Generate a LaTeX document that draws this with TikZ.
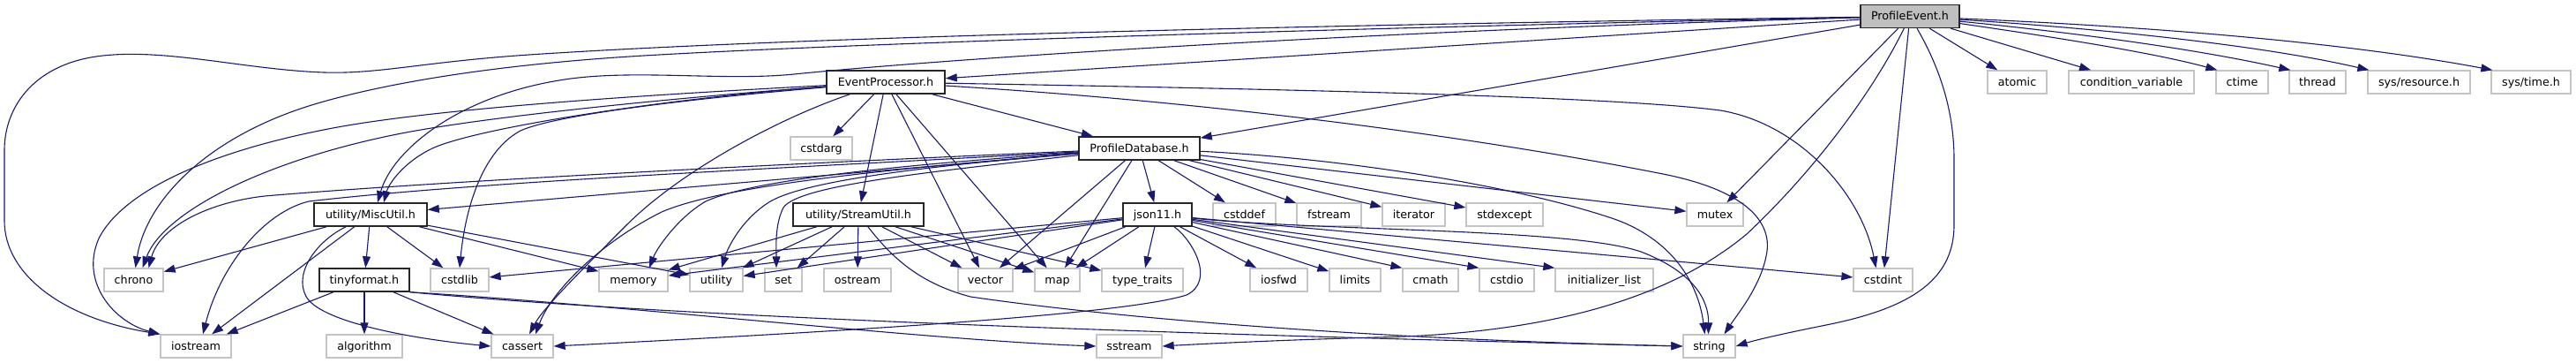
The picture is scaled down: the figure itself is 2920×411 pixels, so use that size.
\documentclass[tikz,border=0pt]{standalone}
\usepackage{fontspec}
\setmainfont{DejaVu Sans}
\usetikzlibrary{arrows.meta}
\definecolor{edgec}{HTML}{191970}
\definecolor{sysc}{HTML}{C4C4C4}
\definecolor{rootf}{HTML}{BFBFBF}
\begin{document}
\begin{tikzpicture}[x=1pt,y=-1pt,
  every node/.style={font=\fontsize{12.7}{15}\selectfont, inner sep=0pt, text height=11pt, text depth=2pt, minimum height=26pt},
  nbox/.style={draw=sysc, line width=1.3pt, fill=white},
  dbox/.style={draw=black!85, line width=1.5pt, fill=white},
  rbox/.style={draw=black!85, line width=1.5pt, fill=rootf},
  e/.style={draw=edgec, line width=1.1pt, -{Triangle[length=13pt,width=9pt]}}]
\useasboundingbox[fill=white] (0,0) rectangle (2920,411);
% row 0
\node[rbox, minimum width=112pt] (PE) at (2165,18.5) {ProfileEvent.h};
% row 1
\node[dbox, minimum width=134pt] (EP) at (1004,93) {EventProcessor.h};
\node[nbox, minimum width=67pt] (atomic) at (2286.5,93) {atomic};
\node[nbox, minimum width=142pt] (condvar) at (2416,93) {condition\_variable};
\node[nbox, minimum width=59pt] (ctime) at (2541.5,93) {ctime};
\node[nbox, minimum width=64pt] (thread) at (2627,93) {thread};
\node[nbox, minimum width=116pt] (sysres) at (2742,93) {sys/resource.h};
\node[nbox, minimum width=90pt] (systime) at (2869,93) {sys/time.h};
% row 2
\node[nbox, minimum width=70pt] (cstdarg) at (931,168) {cstdarg};
\node[dbox, minimum width=137pt] (PD) at (1291.5,168) {ProfileDatabase.h};
% row 3
\node[dbox, minimum width=128pt] (MU) at (420,243) {utility/MiscUtil.h};
\node[dbox, minimum width=148pt] (SU) at (973,243) {utility/StreamUtil.h};
\node[dbox, minimum width=78pt] (J) at (1312,243) {json11.h};
\node[nbox, minimum width=71pt] (cstddef) at (1410.5,243) {cstddef};
\node[nbox, minimum width=73pt] (fstream) at (1506.5,243) {fstream};
\node[nbox, minimum width=71pt] (iterator) at (1602.5,243) {iterator};
\node[nbox, minimum width=87pt] (stdexcept) at (1705.5,243) {stdexcept};
\node[nbox, minimum width=64pt] (mutex) at (1944,243) {mutex};
% row 4
\node[nbox, minimum width=67pt] (chrono) at (151.5,317) {chrono};
\node[dbox, minimum width=102pt] (TF) at (413,317) {tinyformat.h};
\node[nbox, minimum width=66pt] (cstdlib) at (521,317) {cstdlib};
\node[nbox, minimum width=78pt] (memory) at (718,317) {memory};
\node[nbox, minimum width=60pt] (utility) at (812,317) {utility};
\node[nbox, minimum width=42pt] (set) at (888,317) {set};
\node[nbox, minimum width=76pt] (ostream) at (972,317) {ostream};
\node[nbox, minimum width=62pt] (vector) at (1117,317) {vector};
\node[nbox, minimum width=51pt] (map) at (1198.5,317) {map};
\node[nbox, minimum width=92pt] (typetraits) at (1295,317) {type\_traits};
\node[nbox, minimum width=65pt] (iosfwd) at (1449.5,317) {iosfwd};
\node[nbox, minimum width=58pt] (limits) at (1536,317) {limits};
\node[nbox, minimum width=63pt] (cmath) at (1621.5,317) {cmath};
\node[nbox, minimum width=62pt] (cstdio) at (1708,317) {cstdio};
\node[nbox, minimum width=111pt] (initlist) at (1818.5,317) {initializer\_list};
\node[nbox, minimum width=67pt] (cstdint) at (2134.5,317) {cstdint};
% row 5
\node[nbox, minimum width=80pt] (iostream) at (222,392) {iostream};
\node[nbox, minimum width=86pt] (algorithm) at (413,392) {algorithm};
\node[nbox, minimum width=70pt] (cassert) at (592,392) {cassert};
\node[nbox, minimum width=74pt] (sstream) at (1280,392) {sstream};
\node[nbox, minimum width=59pt] (string) at (1937.5,392) {string};

% ---- ProfileEvent.h
\draw[e] (PE) -- (EP);
\draw[e] (PE) -- (PD);
\draw[e] (PE) .. controls (1500,28) and (900,42) .. (600,62) .. controls (480,70) and (430,84) .. (367,82) .. controls (280,79) and (190,55) .. (117,63) .. controls (40,71) and (5,120) .. (5,170) -- (5,250) .. controls (5,310) and (70,360) .. (iostream.north west);
\draw[e] (PE) .. controls (1500,32) and (950,50) .. (730,63) .. controls (560,73) and (430,95) .. (350,120) .. controls (230,158) and (165,230) .. ([xshift=2pt]chrono.north);
\draw[e] (PE) .. controls (1600,33) and (1100,64) .. (900,84) .. controls (820,92) and (720,78) .. (640,90) .. controls (520,108) and (445,170) .. ([xshift=8pt]MU.north);
\draw[e] (PE) -- (mutex);
\draw[e] (PE) .. controls (2125,100) and (2060,190) .. (1980,265) .. controls (1890,340) and (1750,378) .. (1560,382) .. controls (1450,385) and (1350,390) .. (sstream.east);
\draw[e] (PE) -- (cstdint);
\draw[e] (PE) .. controls (2195,70) and (2215,120) .. (2215,180) -- (2215,255) .. controls (2215,320) and (2160,350) .. (2070,368) .. controls (2020,378) and (1990,385) .. (string.east);
\draw[e] (PE) -- (atomic);
\draw[e] (PE) -- (condvar);
\draw[e] (PE) .. controls (2350,45) and (2450,62) .. ([xshift=2pt]ctime.north west);
\draw[e] (PE) .. controls (2380,40) and (2500,58) .. ([xshift=2pt]thread.north west);
\draw[e] (PE) .. controls (2420,35) and (2580,55) .. ([xshift=2pt]sysres.north west);
\draw[e] (PE) .. controls (2480,32) and (2680,52) .. ([xshift=2pt]systime.north west);

% ---- EventProcessor.h
\draw[e] (EP) -- (cstdarg);
\draw[e] (EP) -- (SU);
\draw[e] (EP) -- (vector);
\draw[e] (EP) -- (map);
\draw[e] (EP) -- (PD);
\draw[e] (EP) .. controls (1400,100) and (1820,108) .. (1950,125) .. controls (2040,140) and (2110,220) .. ([xshift=-8pt]cstdint.north);
\draw[e] (EP) .. controls (1450,120) and (1750,170) .. (1890,198) .. controls (1985,218) and (2010,255) .. (2002,290) .. controls (1995,325) and (1970,355) .. ([xshift=17pt]string.north);
\draw[e] (EP) .. controls (800,104) and (500,120) .. (367,147) .. controls (240,172) and (140,215) .. (112,270) .. controls (90,320) and (130,365) .. (iostream.north west);
\draw[e] (EP) .. controls (800,108) and (560,130) .. (450,152) .. controls (300,182) and (185,240) .. ([xshift=10pt]chrono.north);
\draw[e] (EP) .. controls (750,112) and (540,145) .. (490,168) .. controls (455,185) and (440,210) .. ([xshift=15pt]MU.north);
\draw[e] (EP) .. controls (780,112) and (630,130) .. (590,148) .. controls (545,172) and (527,240) .. (cstdlib.north);
\draw[e] (EP) .. controls (880,135) and (770,195) .. (710,255) .. controls (655,310) and (615,350) .. ([xshift=8pt]cassert.north);

% ---- ProfileDatabase.h
\draw[e] (PD) -- (J);
\draw[e] (PD) -- (cstddef);
\draw[e] (PD) -- (fstream);
\draw[e] (PD) -- (iterator);
\draw[e] (PD) -- (stdexcept);
\draw[e] (PD) -- (mutex);
\draw[e] (PD) -- (vector);
\draw[e] (PD) -- (map);
\draw[e] (PD) -- (MU);
\draw[e] (PD) .. controls (1500,178) and (1700,205) .. (1827,247) .. controls (1895,270) and (1925,320) .. ([xshift=-5pt]string.north);
\draw[e] (PD) .. controls (900,185) and (500,205) .. (300,222) .. controls (230,230) and (180,260) .. ([xshift=17pt]chrono.north);
\draw[e] (PD) .. controls (900,190) and (550,205) .. (350,228) .. controls (300,240) and (250,300) .. ([xshift=8pt]iostream.north);
\draw[e] (PD) .. controls (1000,188) and (850,205) .. (800,228) .. controls (770,245) and (745,280) .. ([xshift=18pt]memory.north);
\draw[e] (PD) .. controls (1000,192) and (900,210) .. (870,230) .. controls (840,250) and (825,280) .. ([xshift=6pt]utility.north);
\draw[e] (PD) .. controls (1050,195) and (905,210) .. (888,235) .. controls (878,255) and (880,280) .. ([xshift=-8pt]set.north);
\draw[e] (PD) .. controls (1000,192) and (820,210) .. (750,240) .. controls (680,275) and (625,330) .. ([xshift=15pt]cassert.north);

% ---- utility/MiscUtil.h
\draw[e] (MU) -- (chrono);
\draw[e] (MU) -- (iostream);
\draw[e] (MU) -- (TF);
\draw[e] (MU) -- (cstdlib);
\draw[e] (MU) -- (memory);
\draw[e] (MU) -- (utility);
\draw[e] (MU) .. controls (355,275) and (330,315) .. (350,340) .. controls (375,368) and (480,385) .. (cassert.west);

% ---- tinyformat.h
\draw[e] (TF) -- (iostream);
\draw[e] (TF) -- (algorithm);
\draw[e] (TF) -- (cassert);
\draw[e] (TF.south east) .. controls (700,345) and (1050,385) .. (sstream.west);
\draw[e] (TF.south east) .. controls (800,362) and (1400,380) .. (string.west);

% ---- utility/StreamUtil.h
\draw[e] (SU) -- (memory);
\draw[e] (SU) -- (utility);
\draw[e] (SU) -- (set);
\draw[e] (SU) -- (ostream);
\draw[e] (SU) -- (vector);
\draw[e] (SU) -- (map);
\draw[e] (SU) -- (typetraits);
\draw[e] (SU) .. controls (1010,290) and (1040,320) .. (1100,336) .. controls (1300,365) and (1600,385) .. (string.west);

% ---- json11.h
\draw[e] (J) -- (vector);
\draw[e] (J) -- (map);
\draw[e] (J) -- (typetraits);
\draw[e] (J) -- (iosfwd);
\draw[e] (J) -- (limits);
\draw[e] (J) -- (cmath.north west);
\draw[e] (J) -- (cstdio.north west);
\draw[e] (J) -- (initlist.north west);
\draw[e] (J) -- (cstdint);
\draw[e] (J) -- (cstdlib);
\draw[e] (J) -- (memory);
\draw[e] (J) -- (utility);
\draw[e] (J) .. controls (1500,262) and (1780,258) .. (1860,285) .. controls (1920,308) and (1937,340) .. ([xshift=-1pt]string.north);
\draw[e] (J) .. controls (1352,272) and (1378,318) .. (1345,334) .. controls (1270,358) and (900,378) .. (cassert.east);
\end{tikzpicture}
\end{document}
